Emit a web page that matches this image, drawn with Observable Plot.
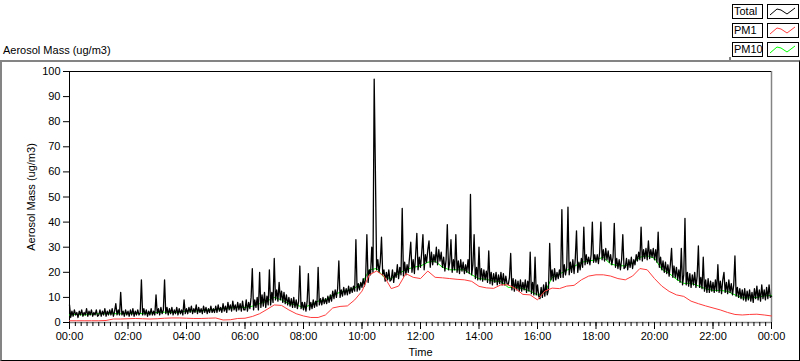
<!DOCTYPE html>
<html>
<head>
<meta charset="utf-8">
<script src="https://cdn.jsdelivr.net/npm/d3@7"></script>
<script src="https://cdn.jsdelivr.net/npm/@observablehq/plot@0.6"></script>
<style>
  body { margin: 0; background: #fff; font-family: "Liberation Sans", Arial, sans-serif; }
  #wrap { position: relative; width: 800px; height: 361px; overflow: hidden; background: #fff; }
  #chart { position: absolute; left: 0; top: 61px; }
  #frame { position: absolute; left: 0; top: 60px; width: 800px; height: 301px; box-sizing: border-box;
           border-top: 2px solid #848484; border-left: 2px solid #848484;
           border-right: 1px solid #000; border-bottom: 1px solid #000; pointer-events: none; }
  #title { position: absolute; left: 3px; top: 44px; font-size: 11px; line-height: 13px; color: #000; white-space: nowrap; }
  .lg-label { position: absolute; left: 732px; width: 31px; height: 15px; box-sizing: border-box;
              border: 1px solid #000; font-size: 11px; line-height: 13px; padding-left: 1px; color: #000;
              white-space: nowrap; overflow: hidden; }
  .lg-sample { position: absolute; left: 767px; width: 32px; height: 15px; box-sizing: border-box; border: 1px solid #000; }
  .lg-sample svg { display: block; }
  #lgline { position: absolute; left: 729px; top: 57px; width: 2px; height: 4px; background: #848484; }
</style>
</head>
<body>
<div id="wrap">
  <div id="title">Aerosol Mass (ug/m3)</div>
  <div id="legend"></div>
  <div id="chart"></div>
  <div id="frame"></div>
  <div id="lgline"></div>
</div>
<script>
// ---- Data ----
// Total: one value every 2.5 minutes from 00:00 to 24:00 (24 per hour, 577 values)
const totalStepMin = 2.5;
const totalValues = [
  7,2,4.5,2.5,5,3,4,2,4.5,3,5,2.5,4,3,5.5,2.5,4.5,3,5,2.5,4,3,5,2.5,
  3,5,2.5,4.5,3,5.5,2.5,4.5,3,5,3,5.5,2.5,4.5,7.5,3,5,3,12,3,4.5,2.5,5,3,
  4.5,2.5,5,3,5.5,2.5,4.5,3,5,3,4,17,3,5.5,3,5,2.5,4.5,3,5.5,3,4.5,3,11,
  3.5,5.5,3,6,3.5,5,17,3.5,6,3,5.5,3.5,6,3,5,3.5,6,3,5.5,3.5,5,3,9,3.5,
  5.5,3.5,6,4,6.5,3.5,5.5,4,7,3.5,6,4,5.5,3.5,6.5,4,6,3.5,5.5,4,6.5,4,5.5,4,
  6.5,4,7,4.5,6,4,7.5,4.5,6.5,4,8,5,7,4.5,8.5,5,7,4.5,8,5,7.5,4.5,8.5,5,
  5,9,4.5,8,5.5,10,21.5,5,9,6,10,5,20,6,11,6.5,12,6,10.5,7,21,7,12,8,
  25.5,9,13,8.5,16,9,12.5,8,12,7.5,11,7,10,6.5,9.5,6,10,6,9,5.5,8.5,22.5,5.5,8,
  5,8,4.5,8.5,19.5,5,8,5.5,9,6,8.5,6.5,22,7,9.5,7,10,7.5,9.5,7.5,10.5,8,11,8.5,
  12.5,9.5,13,10,13.5,24.5,10,13,10.5,14,11,13.5,11,14.5,11.5,14,12,14.5,12.5,33,12.5,15.5,13,16,
  14,17.5,14.5,18,35,16,21,19,30,20,97,60,21,25,20,24,34,19,21,16.5,20,17,21,16.5,
  17,21,16,20,18,23,17.5,22,19,45.5,18.5,24,19,23,20,26,32,20,25,19.5,27,35.5,21,26,
  22,28,35,21,27,24,29,32.5,22,28,23,27,24,30,23,29,24.5,28,22,26,20.5,25,39,21,
  24,33,20,25,21,35,20,24.5,19.5,25,20.5,24,19.5,23,20,25,19.5,51,19,23,35,17.5,22,17,
  30,17,21.5,16.5,21,17,20.5,16,28.5,15.5,20,15,19.5,16,20,15,19,15.5,20,15,19.5,15,18.5,15.5,
  15,18,27.5,13,17.5,12.5,17,13,16.5,12.5,17,12.5,16,13,17,12,16.5,12.5,28,11.5,16,11,26,11,
  15,10.5,9.5,14,10,15,10.5,16,11,13,31.5,17,21,16.5,21.5,17,20,17.5,21,18,45,18,23,19,
  22,46,19,24,20,25,19.5,25.5,36.5,20,24,21,25.5,22,38,23,27,23.5,26,23,27,40,24,27,
  24,27,23.5,28,40,25,29,24.5,29.5,25,28.5,24,27,23,26,39.5,22,25.5,21.5,25,21,25,35,21.5,
  22,25.5,21,25,22,26,21.5,25,23,27,24.5,28,25,38,24.5,29,25.5,29.5,25,32.5,25.5,29,26,29.5,
  25,29,24,36,22,26,21,24.5,20,24,19.5,23,18.5,23,29.5,18,22.5,18,22,17,21,16,29.5,15,
  19,41.5,15,20,14.5,19.5,14,19,15,20,14,18.5,30.5,14,18,13.5,26,12.5,17,12,17.5,12,16.5,12.5,
  16,12,17,12.5,23,12,16.5,11.5,17,20,12,16,11.5,17,12,15.5,11,15,26.5,10.5,14,10,13.5,9.5,
  13,9,13.5,8.5,12.5,9,13,8.5,12,8,13.5,9.5,14.5,9,13,8.5,15,9.5,13,9,14,9.5,15,10,
  10.5
];
// PM10 and PM1: one value every 15 minutes (97 values)
const seriesStepMin = 15;
const pm10Values = [
  3,3.2,3,3.3, 3.5,3.5,3.5,3.5, 3.5,3.7,3.5,3.7, 4,4.1,4,4.1,
  4.6,4.6,4.6,5, 5.2,5.5,5.8,6, 6,6.5,7.5,8.5, 10,9,7.5,7,
  6,7,8.5,9, 11,12,12.8,13.8, 15.5,21,21.5,18, 17.5,19.5,21,22,
  22.5,24,24.5,22, 21,21,21,19, 17.5,17.2,16.5,16.3, 14,14,13.5,12.5,
  11,12,18,19.3, 20.8,22.3,24,24.5, 25,26,23.3,22.6, 22.6,23.6,26,26.6,
  25.6,21.2,19.6,17.2, 15.6,15.6,14.6,13.4, 12.8,12.8,12.4,11, 9.8,9.8,10,10.6,
  10.8
];
const pm1Values = [
  0.7,0.7,0.7,0.7, 0.7,0.8,1.4,1.4, 1.5,1.6,1.5,1.4, 1.5,1.7,1.8,1.8,
  1.7,1.6,1.6,1.7, 1.8,1.0,1.1,1.6, 1.7,2.4,3.5,5.2, 7.0,6.8,5.0,3.5,
  2.6,2.0,2.0,3.0, 5.8,6.4,6.6,9.0, 12.5,19.0,20.5,18.5, 13.5,14.5,19.5,18.0,
  17.5,20.5,18.0,17.8, 17.5,17.2,17.0,16.4, 14.4,13.8,13.6,15.0, 15.0,13.5,11.2,11.0,
  9.0,12.5,13.7,13.5, 14.5,14.8,17.0,18.5, 19.0,19.0,18.5,17.5, 17.0,18.5,21.5,21.0,
  17.5,14.5,12.4,11.0, 10.4,8.5,7.5,6.6, 5.8,5.0,4.0,3.2, 3.0,3.2,3.3,3.0,
  2.6
];
const seriesNames = ["Total", "PM1", "PM10"];
const seriesColors = ["#000000", "#ff3c3c", "#00ff00"];
const xTicks = [0,2,4,6,8,10,12,14,16,18,20,22,24];
const xTickLabels = ["00:00","02:00","04:00","06:00","08:00","10:00","12:00","14:00","16:00","18:00","20:00","22:00","00:00"];
const yTicks = [0,10,20,30,40,50,60,70,80,90,100];
const yTickLabels = ["0","10","20","30","40","50","60","70","80","90","100"];

// ---- Build tables ----
const toRows = (vals, stepMin) => vals.map((v, i) => ({t: i * stepMin / 60, v}));
const totalRows = toRows(totalValues, totalStepMin);
const pm10Rows = toRows(pm10Values, seriesStepMin);
const pm1Rows = toRows(pm1Values, seriesStepMin);
const minorTicks = d3.range(0, 24.0001, 0.2);

const chart = Plot.plot({
  width: 800,
  height: 300,
  marginTop: 10,
  marginBottom: 39,
  marginLeft: 69,
  marginRight: 29,
  style: {fontFamily: "'Liberation Sans', Arial, sans-serif", fontSize: "11px", background: "transparent", color: "#000"},
  x: {domain: [0, 24], label: null},
  y: {domain: [0, 100], label: null},
  marks: [
    Plot.ruleY([0], {stroke: "#848484", strokeWidth: 1.5}),
    Plot.ruleX([24], {stroke: "#848484", strokeWidth: 1.5}),
    Plot.ruleY([100], {stroke: "#000"}),
    Plot.ruleX([0], {stroke: "#000"}),
    Plot.axisY({ticks: yTicks, tickSize: 6, tickPadding: 3,
      tickFormat: d => yTickLabels[yTicks.indexOf(d)],
      label: "Aerosol Mass (ug/m3)", labelAnchor: "center", labelOffset: 42, labelArrow: "none"}),
    Plot.axisX({ticks: minorTicks, tickSize: 4, tickFormat: () => "", label: null}),
    Plot.axisX({ticks: xTicks, tickSize: 7, tickPadding: 3,
      tickFormat: d => xTickLabels[xTicks.indexOf(d)],
      label: "Time", labelAnchor: "center", labelOffset: 33, labelArrow: "none"}),
    Plot.line(pm10Rows, {x: "t", y: "v", stroke: seriesColors[2], strokeWidth: 1}),
    Plot.line(totalRows, {x: "t", y: "v", stroke: seriesColors[0], strokeWidth: 1.3}),
    Plot.line(pm1Rows, {x: "t", y: "v", stroke: seriesColors[1], strokeWidth: 1})
  ]
});
document.getElementById("chart").appendChild(chart);

// ---- Legend ----
const legend = document.getElementById("legend");
const rowTops = [4, 23, 42];
seriesNames.forEach((name, i) => {
  const lab = document.createElement("div");
  lab.className = "lg-label";
  lab.style.top = rowTops[i] + "px";
  lab.textContent = name;
  legend.appendChild(lab);
  const s = document.createElement("div");
  s.className = "lg-sample";
  s.style.top = rowTops[i] + "px";
  s.innerHTML = `<svg width="30" height="13"><polyline points="2,10 9,4 13,5 19,9 27,3" fill="none" stroke="${seriesColors[i]}" stroke-width="1"/></svg>`;
  legend.appendChild(s);
});
</script>
</body>
</html>
